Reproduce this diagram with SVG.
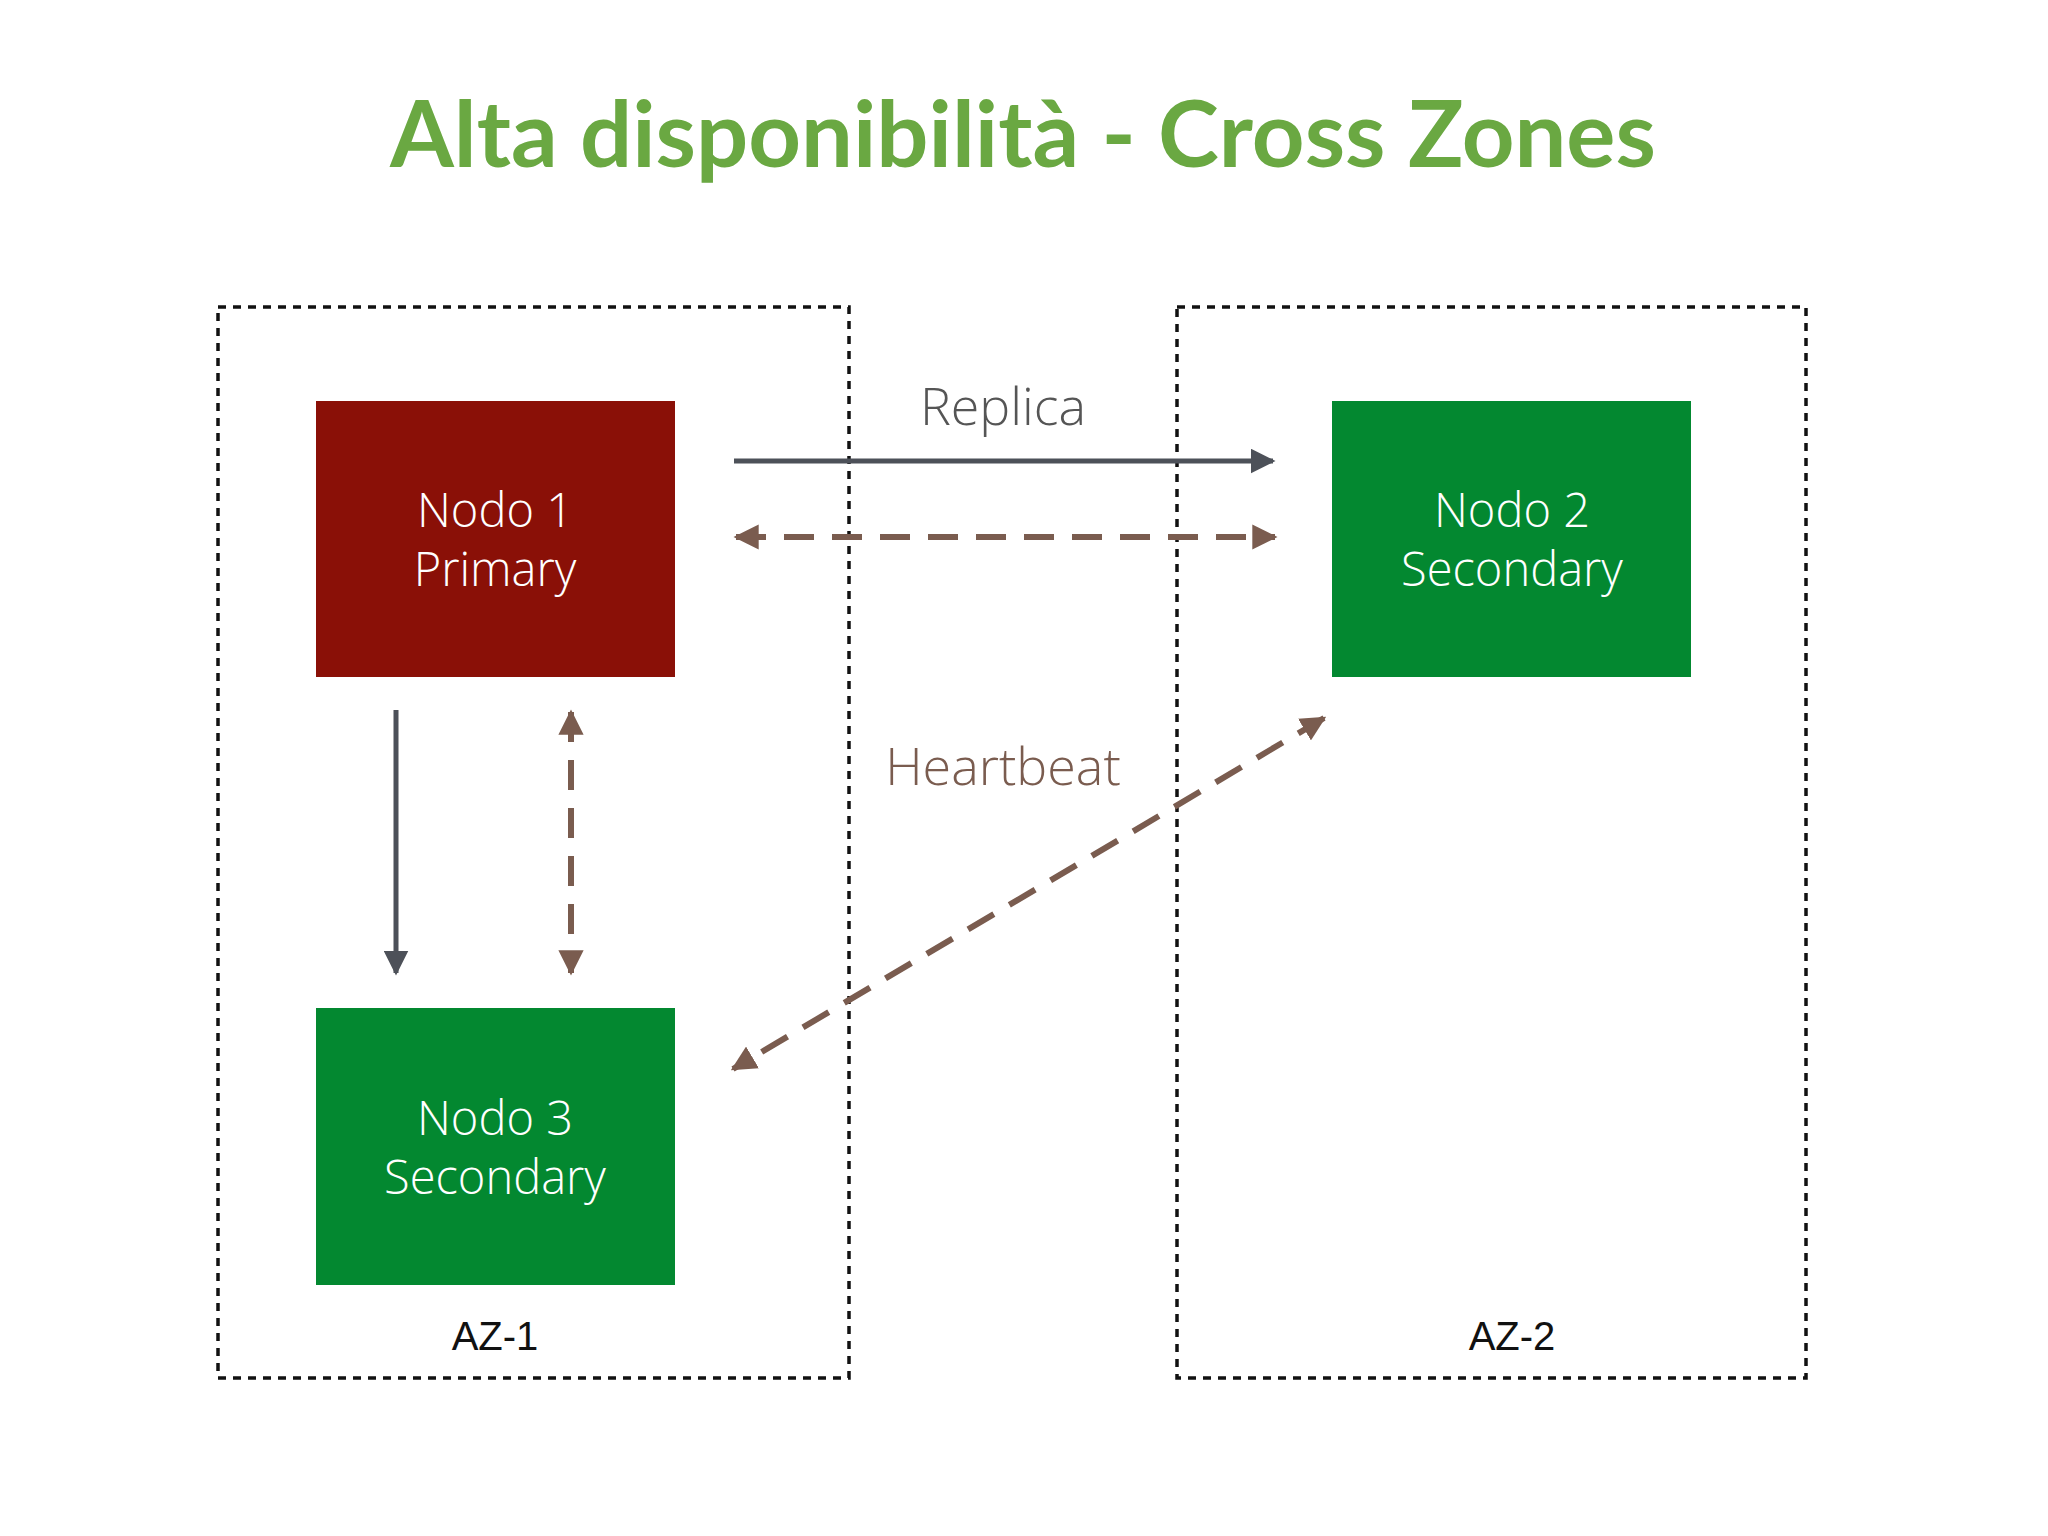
<svg xmlns="http://www.w3.org/2000/svg" width="2048" height="1536" viewBox="0 0 2048 1536">
<style>
.zone{fill:none;stroke:#111;stroke-width:3.5;stroke-dasharray:8 7}
.nt{font-family:"Open Sans","Liberation Sans",sans-serif;font-weight:300;font-size:47px;fill:#fff;text-anchor:middle}
.az{font-family:"Liberation Sans",Arial,sans-serif;font-size:40px;fill:#111;text-anchor:middle}
.solid{stroke:#4d5159;stroke-width:5;fill:none}
.dash{stroke:#7a5c4f;stroke-width:6;fill:none;stroke-dasharray:30 18}
</style>
<defs>
<marker id="ag" viewBox="0 0 10 10" refX="9" refY="5" markerWidth="5" markerHeight="5" markerUnits="strokeWidth" orient="auto-start-reverse"><path d="M0,0L10,5L0,10z" fill="#4d5159"/></marker>
<marker id="ab" viewBox="0 0 10 10" refX="9" refY="5" markerWidth="4.2" markerHeight="4.2" markerUnits="strokeWidth" orient="auto-start-reverse"><path d="M0,0L10,5L0,10z" fill="#7a5c4f"/></marker>
</defs>
<rect width="2048" height="1536" fill="#fff"/>
<text x="1023" y="167" text-anchor="middle" font-family="Lato,'Open Sans',sans-serif" font-weight="700" font-size="92" fill="#6aa842">Alta disponibilità - Cross Zones</text>
<g id="az1"><rect class="zone" x="218" y="307" width="631" height="1071"/><text class="az" x="495" y="1350">AZ-1</text></g>
<g id="az2"><rect class="zone" x="1177" y="307" width="629" height="1071"/><text class="az" x="1512" y="1350">AZ-2</text></g>
<g id="connectors">
<line class="solid" x1="734" y1="461" x2="1273" y2="461" marker-end="url(#ag)"/>
<line class="dash" x1="736" y1="537" x2="1275" y2="537" marker-start="url(#ab)" marker-end="url(#ab)"/>
<line class="solid" x1="396" y1="710" x2="396" y2="973" marker-end="url(#ag)"/>
<line class="dash" x1="571" y1="712" x2="571" y2="973" marker-start="url(#ab)" marker-end="url(#ab)"/>
<line class="dash" x1="1324" y1="718" x2="733" y2="1069" marker-start="url(#ab)" marker-end="url(#ab)"/>
<text x="1003" y="425" text-anchor="middle" font-family="'Open Sans','Liberation Sans',sans-serif" font-weight="300" font-size="52" fill="#555">Replica</text>
<text x="1003" y="785" text-anchor="middle" font-family="'Open Sans','Liberation Sans',sans-serif" font-weight="300" font-size="52" fill="#7a5c4f">Heartbeat</text>
</g>
<g id="nodo1"><rect x="316" y="401" width="359" height="276" fill="#8a1007"/><text class="nt" x="495" y="527">Nodo 1</text><text class="nt" x="495" y="586">Primary</text></g>
<g id="nodo2"><rect x="1332" y="401" width="359" height="276" fill="#038830"/><text class="nt" x="1512" y="527">Nodo 2</text><text class="nt" x="1512" y="586">Secondary</text></g>
<g id="nodo3"><rect x="316" y="1008" width="359" height="277" fill="#038830"/><text class="nt" x="495" y="1135">Nodo 3</text><text class="nt" x="495" y="1194">Secondary</text></g>
</svg>
